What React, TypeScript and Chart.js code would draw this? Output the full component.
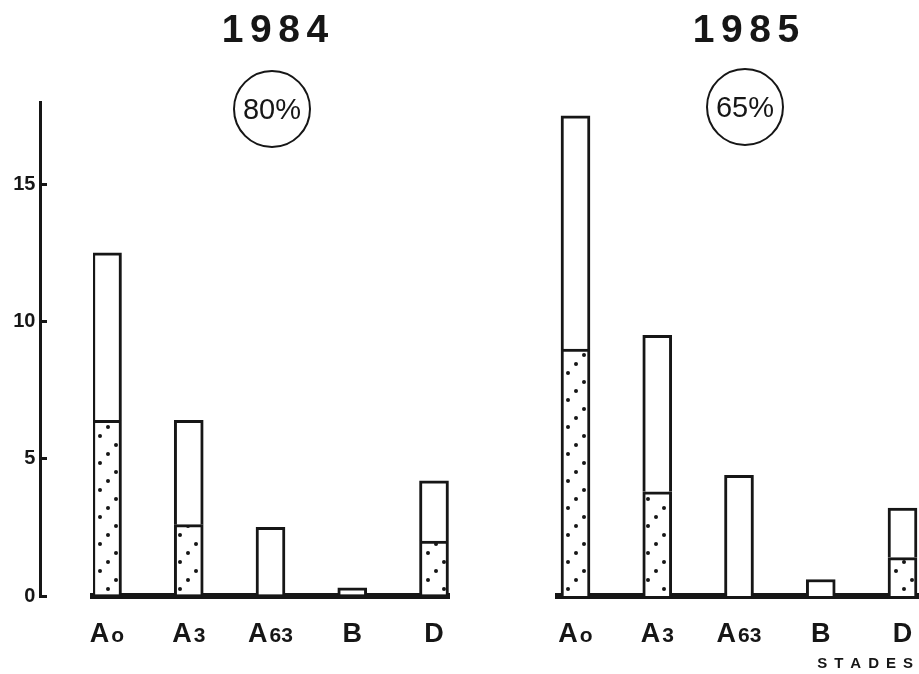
import React, { useEffect, useRef } from 'react';
import { Chart, registerables } from 'chart.js';

Chart.register(...registerables);

const FONT = '"Liberation Sans", Arial, Helvetica, sans-serif';
const INK = '#161616';

// ---- data ----
const categories = ['Ao', 'A3', 'A63', 'B', 'D'];
const years = ['1984', '1985'];
const rates = ['80%', '65%'];
const total1984 = [12.5, 6.4, 2.5, 0.3, 4.2];
const dotted1984 = [6.4, 2.6, 0, 0, 2.0];
const total1985 = [17.5, 9.5, 4.4, 0.6, 3.2];
const dotted1985 = [9.0, 3.8, 0, 0, 1.4];
const yTicks = [0, 5, 10, 15];
const yMax = 18;
const xTitle = 'STADES';

function makeDotPattern(): CanvasPattern | string {
  const c = document.createElement('canvas');
  c.width = 24;
  c.height = 27;
  const g = c.getContext('2d');
  if (!g) return '#fff';
  g.fillStyle = '#fff';
  g.fillRect(0, 0, 24, 27);
  g.fillStyle = INK;
  [[4, 4], [20, 13], [12, 22]].forEach(([x, y]) => {
    g.beginPath();
    g.arc(x, y, 2, 0, Math.PI * 2);
    g.fill();
  });
  return g.createPattern(c, 'repeat') || '#fff';
}

const richTicks = {
  id: 'richTicks',
  afterDraw(chart: any, _args: any, opts: any) {
    const { ctx } = chart;
    const xs = chart.scales.x;
    const y = chart.chartArea.bottom + 46;
    ctx.save();
    ctx.fillStyle = INK;
    ctx.textBaseline = 'alphabetic';
    ctx.textAlign = 'left';
    (opts.labels as string[]).forEach((lab, i) => {
      const big = lab.slice(0, 1);
      const small = lab.slice(1);
      const bigFont = `bold 27px ${FONT}`;
      const smallFont = `bold 21px ${FONT}`;
      ctx.font = bigFont;
      const wb = ctx.measureText(big).width;
      ctx.font = smallFont;
      const ws = small ? ctx.measureText(small).width : 0;
      const gap = small ? 2 : 0;
      const cx = xs.getPixelForValue(i);
      const x0 = cx - (wb + gap + ws) / 2;
      ctx.font = bigFont;
      ctx.fillText(big, x0, y);
      if (small) {
        ctx.font = smallFont;
        ctx.fillText(small, x0 + wb + gap, y);
      }
    });
    if (opts.title) {
      ctx.font = `bold 15px ${FONT}`;
      const sp = 7;
      const chars = (opts.title as string).split('');
      const widths = chars.map((c) => ctx.measureText(c).width);
      const totalW = widths.reduce((a, b) => a + b, 0) + sp * (chars.length - 1);
      let x = xs.right - 6 - totalW;
      const ty = chart.chartArea.bottom + 72;
      chars.forEach((c, i) => {
        ctx.fillText(c, x, ty);
        x += widths[i] + sp;
      });
    }
    ctx.restore();
  },
};

type PanelProps = {
  total: number[];
  dotted: number[];
  showY: boolean;
  title?: string;
  left: number;
  width: number;
  padLeft: number;
  padRight: number;
  xMin: number;
  xMax: number;
  yAxisAt?: number;
};

function Panel(p: PanelProps) {
  const ref = useRef<HTMLCanvasElement>(null);
  useEffect(() => {
    if (!ref.current) return;
    const pattern = makeDotPattern();
    const yScale: any = p.showY
      ? {
          min: 0,
          max: yMax,
          position: { x: p.yAxisAt },
          afterBuildTicks: (s: any) => {
            s.ticks = yTicks.map((v) => ({ value: v }));
          },
          ticks: {
            callback: (v: any) => String(v) + ' ',
            font: { family: FONT, size: 20, weight: 'bold' },
            color: INK,
          },
          grid: {
            drawOnChartArea: false,
            drawTicks: true,
            tickLength: -8,
            lineWidth: 3,
            color: INK,
          },
          border: { display: true, width: 3, color: INK },
        }
      : { display: false, min: 0, max: yMax };

    const chart = new Chart(ref.current, {
      type: 'bar',
      data: {
        datasets: [
          {
            label: 'dotted',
            data: p.dotted.map((v, i) => ({ x: i, y: v })),
            backgroundColor: pattern as any,
            borderColor: INK,
            borderWidth: 3,
            borderSkipped: 'start',
            barThickness: 29,
            grouped: false,
          } as any,
          {
            label: 'total',
            data: p.total.map((v, i) => ({ x: i, y: [p.dotted[i], v] })),
            backgroundColor: '#ffffff',
            borderColor: INK,
            borderWidth: 3,
            borderSkipped: 'start',
            barThickness: 29,
            grouped: false,
          } as any,
        ],
      },
      options: {
        animation: false,
        responsive: false,
        layout: { padding: { left: p.padLeft, right: p.padRight, top: 102, bottom: 78 } },
        plugins: {
          legend: { display: false },
          tooltip: { enabled: false },
          title: { display: false },
          richTicks: { labels: categories, title: p.title },
        } as any,
        scales: {
          x: {
            type: 'linear',
            min: p.xMin,
            max: p.xMax,
            offset: false,
            grid: { display: false, drawTicks: false },
            ticks: { display: false },
            border: { display: true, width: 6, color: INK },
          },
          y: yScale,
        },
      },
      plugins: [richTicks as any],
    });
    return () => chart.destroy();
  }, []);
  return (
    <div style={{ position: 'absolute', left: p.left, top: 0, width: p.width, height: 674 }}>
      <canvas ref={ref} width={p.width} height={674} />
    </div>
  );
}

function YearTitle({ text, cx }: { text: string; cx: number }) {
  return (
    <div
      style={{
        position: 'absolute',
        left: cx - 100,
        top: 10,
        width: 200,
        boxSizing: 'border-box',
        paddingLeft: 6.5,
        textAlign: 'center',
        fontFamily: FONT,
        fontWeight: 'bold',
        fontSize: 39,
        lineHeight: '38px',
        letterSpacing: 6.5,
        color: INK,
      }}
    >
      {text}
    </div>
  );
}

function Rate({ text, cx, cy }: { text: string; cx: number; cy: number }) {
  return (
    <div
      style={{
        position: 'absolute',
        left: cx - 39,
        top: cy - 39,
        width: 78,
        height: 78,
        boxSizing: 'border-box',
        border: `2px solid ${INK}`,
        borderRadius: '50%',
        display: 'flex',
        alignItems: 'center',
        justifyContent: 'center',
        fontFamily: FONT,
        fontSize: 29,
        color: INK,
      }}
    >
      {text}
    </div>
  );
}

export default function App() {
  const step = 81.75;
  return (
    <div
      style={{
        position: 'absolute',
        left: 0,
        top: 0,
        width: 919,
        height: 674,
        background: '#fff',
        overflow: 'hidden',
      }}
    >
      <Panel
        total={total1984}
        dotted={dotted1984}
        showY={true}
        left={0}
        width={460}
        padLeft={93}
        padRight={11}
        xMin={(93 - 107) / step}
        xMax={(449 - 107) / step}
        yAxisAt={(41 - 107) / step}
      />
      <Panel
        total={total1985}
        dotted={dotted1985}
        showY={false}
        title={xTitle}
        left={460}
        width={459}
        padLeft={98}
        padRight={0}
        xMin={(558 - 575.5) / step}
        xMax={(919 - 575.5) / step}
      />
      <YearTitle text={years[0]} cx={275} />
      <YearTitle text={years[1]} cx={746} />
      <Rate text={rates[0]} cx={272} cy={109} />
      <Rate text={rates[1]} cx={745} cy={107} />
    </div>
  );
}
